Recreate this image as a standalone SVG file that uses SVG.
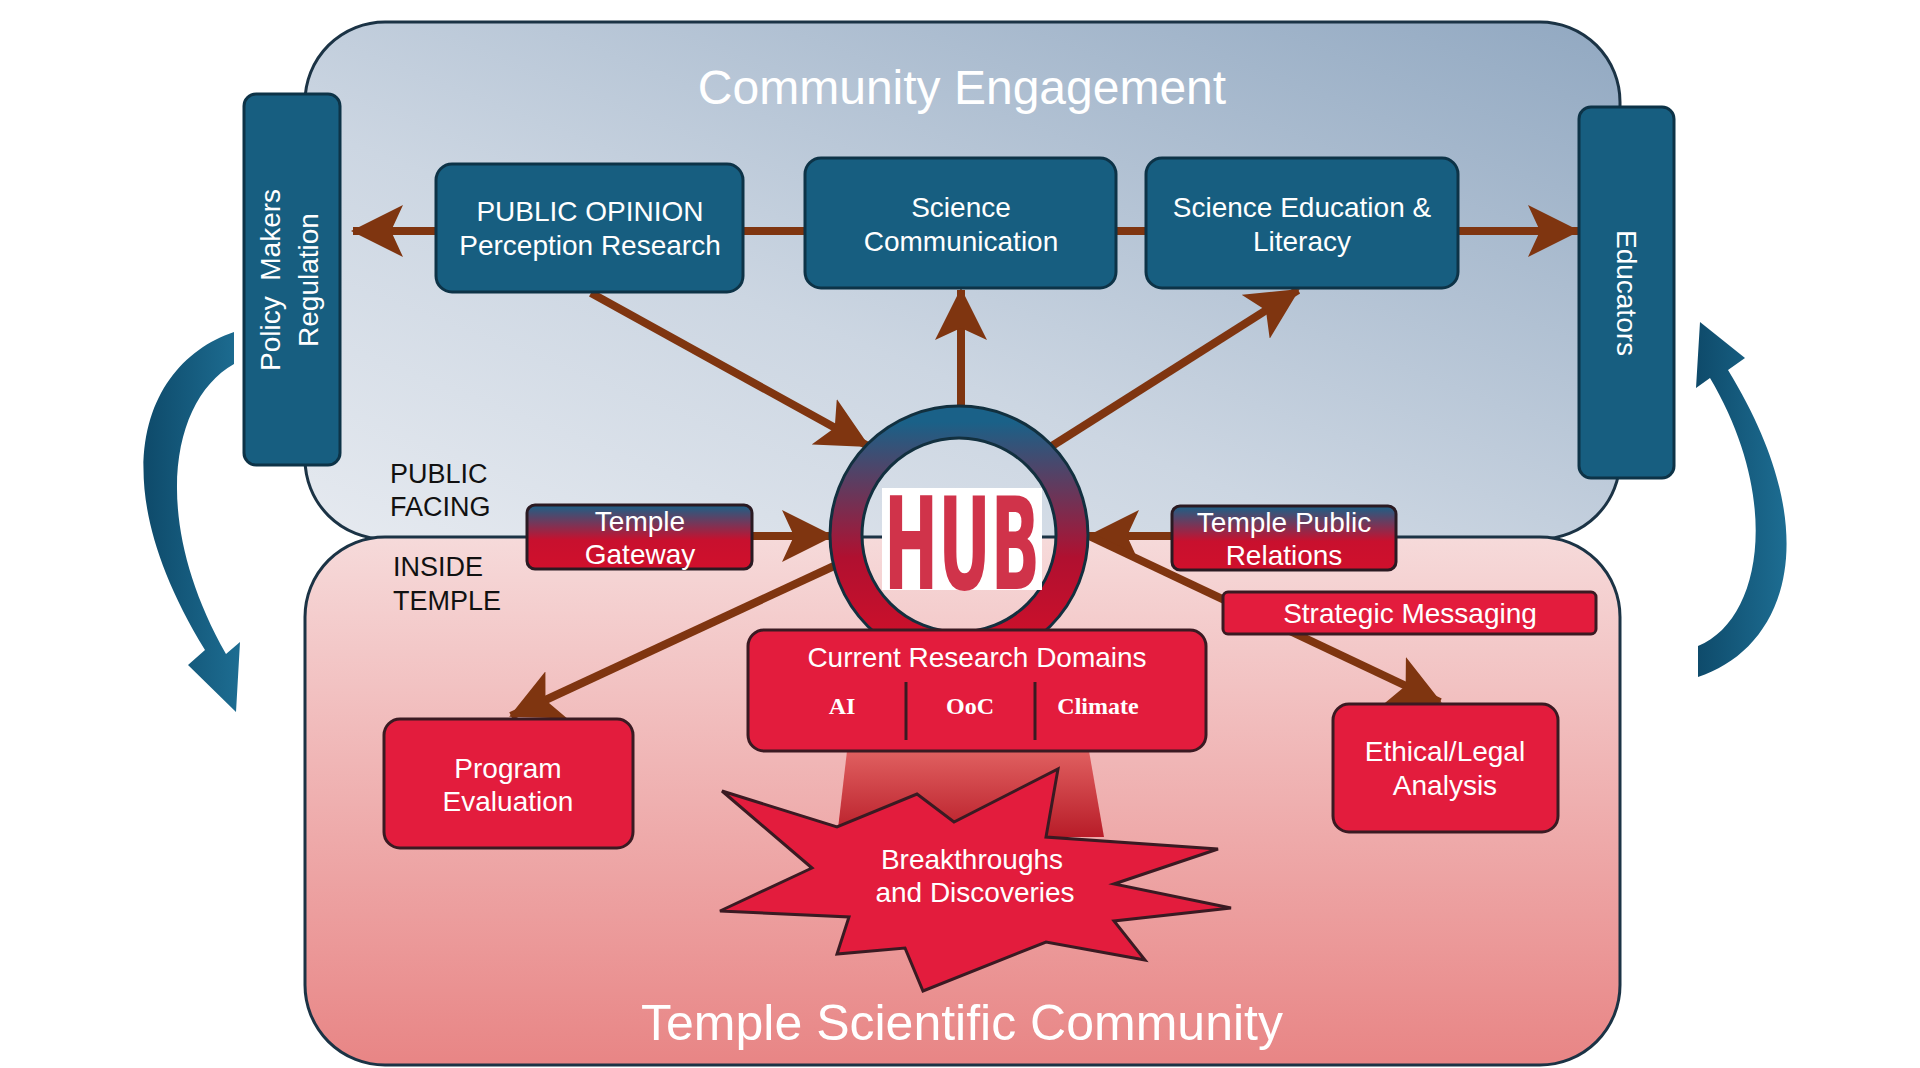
<svg xmlns="http://www.w3.org/2000/svg" width="1920" height="1068" viewBox="0 0 1920 1068">
<defs>
<linearGradient id="gTop" x1="0" y1="1" x2="1" y2="0"><stop offset="0" stop-color="#e6eaf0"/><stop offset="0.4" stop-color="#ccd6e2"/><stop offset="1" stop-color="#91a8c1"/></linearGradient>
<linearGradient id="gBot" x1="0" y1="0" x2="0" y2="1"><stop offset="0" stop-color="#f6dada"/><stop offset="1" stop-color="#e88585"/></linearGradient>
<linearGradient id="gBR" x1="0" y1="0" x2="0" y2="1"><stop offset="0" stop-color="#1a6188"/><stop offset="0.55" stop-color="#c8102e"/><stop offset="1" stop-color="#d0102c"/></linearGradient>
<linearGradient id="gRing" x1="0" y1="0" x2="0" y2="1"><stop offset="0" stop-color="#1a6188"/><stop offset="0.6" stop-color="#b01030"/><stop offset="1" stop-color="#d0102a"/></linearGradient>
<linearGradient id="gBeam" x1="0" y1="0" x2="0" y2="1"><stop offset="0" stop-color="#e06060"/><stop offset="1" stop-color="#b81c28"/></linearGradient>
<linearGradient id="gCurve" x1="0" y1="0" x2="1" y2="0"><stop offset="0" stop-color="#0e4a6a"/><stop offset="1" stop-color="#1d6d92"/></linearGradient>
<marker id="ah" markerUnits="userSpaceOnUse" markerWidth="56" markerHeight="52" refX="50" refY="26" orient="auto"><path d="M0,0 L52,26 L0,52 L12,26 Z" fill="#7f3510"/></marker>
<style>
.box{fill:#175e80;stroke:#0d3347;stroke-width:3}
.rbox{fill:#e31c3d;stroke:#3a1a22;stroke-width:3}
.t{font-family:"Liberation Sans",Arial,sans-serif;fill:#fff;font-size:28px;text-anchor:middle}
.k{font-family:"Liberation Sans",Arial,sans-serif;fill:#111;font-size:27px}
.a{stroke:#7f3510;stroke-width:8;fill:none}
.s{font-family:"Liberation Serif",serif;font-weight:bold;fill:#fff;font-size:24px;text-anchor:middle}
</style>
</defs>
<rect id="community" x="305" y="22" width="1315" height="517" rx="80" fill="url(#gTop)" stroke="#1b3345" stroke-width="3"/>
<rect id="temple" x="305" y="537" width="1315" height="528" rx="80" fill="url(#gBot)" stroke="#1b3345" stroke-width="3"/>
<text x="962" y="104" class="t" style="font-size:48px">Community Engagement</text>
<text x="962" y="1040" class="t" style="font-size:50px">Temple Scientific Community</text>
<g id="labels">
<text x="390" y="483" class="k">PUBLIC</text><text x="390" y="516" class="k">FACING</text>
<text x="393" y="576" class="k">INSIDE</text><text x="393" y="610" class="k">TEMPLE</text>
</g>
<g id="beam"><polygon points="847,751 1089,751 1104,837 837,837" fill="url(#gBeam)"/></g>
<g id="connectors">
<line x1="743" y1="231" x2="805" y2="231" class="a"/>
<line x1="1116" y1="231" x2="1146" y2="231" class="a"/>
<line x1="436" y1="231" x2="353" y2="231" class="a" marker-end="url(#ah)"/>
<line x1="1458" y1="231" x2="1578" y2="231" class="a" marker-end="url(#ah)"/>
<line x1="591" y1="293" x2="868" y2="446" class="a" marker-end="url(#ah)"/>
<line x1="961" y1="409" x2="961" y2="290" class="a" marker-end="url(#ah)"/>
<line x1="1052" y1="446" x2="1298" y2="290" class="a" marker-end="url(#ah)"/>
<line x1="752" y1="536" x2="832" y2="536" class="a" marker-end="url(#ah)"/>
<line x1="1172" y1="536" x2="1089" y2="536" class="a" marker-end="url(#ah)"/>
<line x1="1089" y1="536" x2="1440" y2="702" class="a" marker-end="url(#ah)"/>
<line x1="834" y1="566" x2="511" y2="716" class="a" marker-end="url(#ah)"/>
<path d="M234,332 C150,360 95,470 205,650 L188,665 L236,712 L240,642 L226,654 C150,520 170,400 234,364 Z" fill="url(#gCurve)"/>
<path d="M1698,677 C1782,650 1832,540 1728,370 L1745,358 L1700,322 L1696,388 L1710,378 C1782,500 1762,620 1698,646 Z" fill="url(#gCurve)"/>
</g>
<g id="policy"><rect x="244" y="94" width="96" height="371" rx="12" class="box"/>
<text transform="translate(280,280) rotate(-90)" class="t" xml:space="preserve">Policy  Makers</text>
<text transform="translate(318,280) rotate(-90)" class="t">Regulation</text></g>
<g id="educators"><rect x="1579" y="107" width="95" height="371" rx="12" class="box"/>
<text transform="translate(1617,293) rotate(90)" class="t">Educators</text></g>
<g id="opinion"><rect x="436" y="164" width="307" height="128" rx="16" class="box"/>
<text x="590" y="221" class="t">PUBLIC OPINION</text><text x="590" y="255" class="t">Perception Research</text></g>
<g id="scicomm"><rect x="805" y="158" width="311" height="130" rx="16" class="box"/>
<text x="961" y="217" class="t">Science</text><text x="961" y="251" class="t">Communication</text></g>
<g id="scied"><rect x="1146" y="158" width="312" height="130" rx="16" class="box"/>
<text x="1302" y="217" class="t">Science Education &amp;</text><text x="1302" y="251" class="t">Literacy</text></g>
<g id="gateway"><rect x="527" y="505" width="225" height="64" rx="8" fill="url(#gBR)" stroke="#2a1a22" stroke-width="3"/>
<text x="640" y="531" class="t">Temple</text><text x="640" y="564" class="t">Gateway</text></g>
<g id="pr"><rect x="1172" y="506" width="224" height="64" rx="8" fill="url(#gBR)" stroke="#2a1a22" stroke-width="3"/>
<text x="1284" y="532" class="t">Temple Public</text><text x="1284" y="565" class="t">Relations</text></g>
<g id="messaging"><rect x="1223" y="592" width="373" height="42" rx="5" class="rbox"/>
<text x="1410" y="623" class="t">Strategic Messaging</text></g>
<g id="hub"><circle cx="959" cy="535" r="113" fill="none" stroke="url(#gRing)" stroke-width="31"/>
<circle cx="959" cy="535" r="129" fill="none" stroke="#12303f" stroke-width="3"/>
<circle cx="959" cy="535" r="97" fill="none" stroke="#12303f" stroke-width="3"/>
<rect x="882" y="488" width="160" height="102" fill="#fff"/>
<text x="962" y="589" font-family="DejaVu Sans, sans-serif" font-weight="bold" font-size="128" fill="#d0334a" text-anchor="middle" textLength="156" lengthAdjust="spacingAndGlyphs">HUB</text></g>
<g id="domains"><rect x="748" y="630" width="458" height="121" rx="16" class="rbox"/>
<text x="977" y="667" class="t">Current Research Domains</text>
<line x1="906" y1="682" x2="906" y2="740" stroke="#3a1a22" stroke-width="3"/>
<line x1="1035" y1="682" x2="1035" y2="740" stroke="#3a1a22" stroke-width="3"/>
<text x="842" y="714" class="s">AI</text><text x="970" y="714" class="s">OoC</text><text x="1098" y="714" class="s">Climate</text></g>
<g id="breakthrough"><polygon points="722,791 837,827 917,794 954,822 1058,769 1046,837 1218,849 1114,884 1231,908 1114,921 1145,960 1046,942 923,991 905,948 837,954 849,917 720,911 812,868" fill="#e31c3d" stroke="#3a1a22" stroke-width="3"/>
<text x="972" y="869" class="t">Breakthroughs</text><text x="975" y="902" class="t">and Discoveries</text></g>
<g id="program"><rect x="384" y="719" width="249" height="129" rx="16" class="rbox"/>
<text x="508" y="778" class="t">Program</text><text x="508" y="811" class="t">Evaluation</text></g>
<g id="ethical"><rect x="1333" y="704" width="225" height="128" rx="16" class="rbox"/>
<text x="1445" y="761" class="t">Ethical/Legal</text><text x="1445" y="795" class="t">Analysis</text></g>
</svg>
